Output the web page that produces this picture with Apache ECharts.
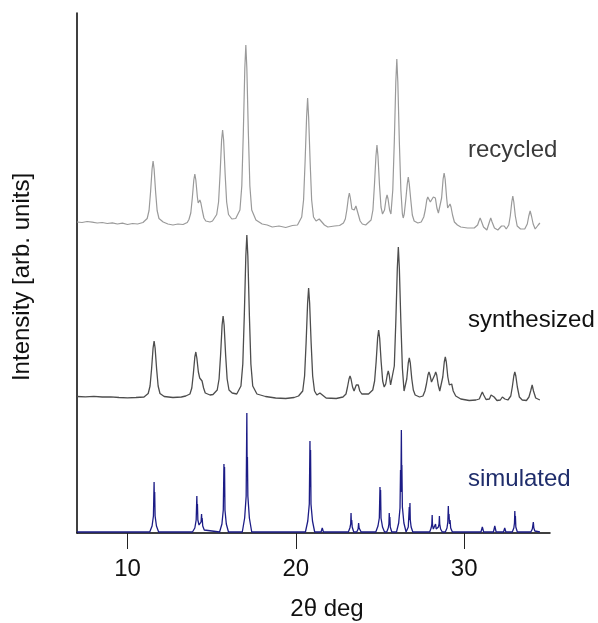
<!DOCTYPE html>
<html>
<head>
<meta charset="utf-8">
<script src="https://cdn.jsdelivr.net/npm/echarts@6/dist/echarts.min.js"></script>
<style>
html,body{margin:0;padding:0;background:#fff;}
#chart{width:598px;height:623px;}
</style>
</head>
<body>
<div id="chart"></div>
<script>
// x tick labels (2θ, degrees)
const xTicks = [10, 20, 30];

// series names
const seriesNames = ['recycled', 'synthesized', 'simulated'];

// vertical stacking offsets (arb. units) for each pattern
const offsetRecycled = 309;
const offsetSynthesized = 134;
const offsetSimulated = 1;

// recycled pattern: [2θ, intensity above its baseline]
const recycled = [
[7.0,2],[7.3,1.5],[7.6,2.5],[7.9,1.8],[8.2,1],[8.5,1.5],[8.8,0.5],[9.1,1.2],[9.4,0],[9.7,0.8],[10.0,-0.5],[10.3,0.5],[10.6,0],[10.92,1.5],
[11.17,5.5],[11.28,13.5],[11.37,32],[11.46,55],[11.52,63],[11.58,55],[11.67,32],[11.76,13.5],[11.87,5.5],[12.12,2],[12.4,0],[12.7,-1],[13.0,0],[13.3,-0.5],[13.55,1.5],
[13.65,4.5],[13.76,11],[13.85,26],[13.94,44],[14.0,50],[14.06,44],[14.15,27],[14.2,21],[14.24,22],[14.3,24],[14.36,21],[14.45,13],[14.54,6],[14.65,3],[14.9,2],[15.05,3],
[15.3,9.5],[15.41,22],[15.5,50],[15.59,84],[15.65,94],[15.71,84],[15.8,50],[15.89,22],[16.0,9.5],[16.2,5],
[16.43,5.5],[16.68,14],[16.79,38],[16.88,91],[16.97,156],[17.03,179],[17.09,156],[17.18,91],[17.27,38],[17.38,14],[17.63,4],[18.0,0],[18.3,-1],[18.6,-3],[19.0,-2],[19.4,-3.5],[19.8,-1.5],[20.1,-1],
[20.35,7],[20.46,24],[20.55,62],[20.64,107],[20.7,126],[20.76,107],[20.85,62],[20.94,24],[21.05,7],[21.2,3],[21.3,4],[21.39,5],[21.5,3],[21.7,-1],[21.9,-3],[22.3,-2],[22.6,-1.5],
[22.83,1],[22.94,5],[23.03,14],[23.12,26],[23.18,31],[23.24,26],[23.33,15],[23.4,13],[23.47,14],[23.51,16],[23.57,18],[23.63,16],[23.72,9],[23.82,3],[23.95,0],[24.15,-1],
[24.47,4],[24.58,14],[24.67,39],[24.76,68],[24.82,79],[24.88,68],[24.97,39],[25.06,17],[25.15,10],[25.2,9],[25.27,14],[25.36,25],[25.42,29],[25.48,25],[25.57,14],[25.65,10],
[25.76,34],[25.85,82],[25.94,142],[26.0,165],[26.06,142],[26.15,82],[26.24,34],[26.33,10],[26.38,6],[26.44,10],[26.53,24],[26.62,40],[26.68,47],[26.74,40],[26.83,24],[26.92,9],[27.03,3],[27.25,1],[27.45,2],
[27.6,7],[27.69,14],[27.78,24],[27.84,27],[27.9,25],[27.99,22],[28.03,21],[28.08,22],[28.17,27],[28.23,29],[28.29,26],[28.38,16],[28.47,11],[28.54,12],[28.66,26],[28.75,45],[28.81,51],[28.87,45],[28.96,26],[29.02,16],[29.07,15],[29.1,17],[29.16,20],[29.22,17],[29.31,9],[29.42,2],[29.6,-1],[29.8,-3],[30.2,-4],[30.6,-4],
[30.8,-1],[30.88,3],[30.95,6],[31.02,3],[31.15,-3],[31.35,-6],[31.5,2],[31.58,6],[31.66,2],[31.8,-4],[32.0,-6],[32.22,-2],[32.3,0],[32.38,-2],[32.5,-5],[32.65,-1],[32.74,8],[32.83,22],[32.89,28],[32.95,22],[33.04,8],[33.15,-2],[33.35,-5],[33.6,-5],[33.75,0],[33.84,8],[33.92,13],[34.0,8],[34.1,0],[34.22,-5],[34.4,-1],[34.5,1]
];

// synthesized pattern: [2θ, intensity above its baseline]
const synthesized = [
[7.0,2.5],[7.5,2.2],[8.0,2.6],[8.5,2],[9.0,2.2],[9.5,1.5],[10.0,1.2],[10.5,1.5],[10.98,2],
[11.23,5.5],[11.34,13],[11.43,30],[11.52,51],[11.58,58],[11.64,51],[11.73,30],[11.82,13],[11.93,5.5],[12.18,2.5],[12.7,1.5],[13.2,2],
[13.46,3],[13.71,5],[13.82,11],[13.91,25],[14.0,42],[14.06,47],[14.12,41],[14.21,27],[14.29,21],[14.36,22],[14.43,18],[14.52,11],[14.62,6],[14.9,4],
[15.08,4.5],[15.33,9],[15.44,20],[15.53,44],[15.62,74],[15.68,83],[15.74,74],[15.83,44],[15.92,20],[16.03,9],[16.22,6],
[16.49,5],[16.74,13],[16.85,35],[16.94,84],[17.03,143],[17.09,164],[17.15,143],[17.24,84],[17.33,35],[17.44,13],[17.69,5],[18.2,2.5],[18.8,1],[19.4,0.5],[19.9,1.5],
[20.16,3],[20.41,8],[20.52,23],[20.61,56],[20.7,96],[20.76,111],[20.82,96],[20.91,56],[21.0,23],[21.11,8],[21.25,4],[21.35,5],[21.43,6],[21.52,4],[21.8,1],[22.4,0.5],
[22.8,2],[22.98,5],[23.07,12],[23.16,20],[23.22,23],[23.28,20],[23.37,12],[23.46,8],[23.52,10],[23.59,14],[23.65,16],[23.71,14],[23.8,8],[23.92,5],[24.1,5],
[24.32,5],[24.57,9],[24.68,18],[24.77,37],[24.86,61],[24.92,69],[24.98,61],[25.07,37],[25.16,18],[25.25,12],[25.34,15],[25.43,24],[25.49,28],[25.55,24],[25.63,14],[25.7,12],
[25.74,14],[25.85,33],[25.94,77],[26.03,131],[26.09,152],[26.15,131],[26.24,77],[26.33,31],[26.43,8],[26.5,10],[26.59,20],[26.68,36],[26.74,41],[26.8,36],[26.89,20],[26.98,9],[27.09,4],[27.35,2],[27.55,3],
[27.67,8],[27.76,15],[27.85,24],[27.91,27],[27.97,24],[28.06,17],[28.11,16],[28.16,17],[28.25,24],[28.31,27],[28.37,24],[28.46,14],[28.55,8],[28.64,9],[28.73,22],[28.82,37],[28.88,42],[28.94,37],[29.03,22],[29.12,14],[29.2,14],[29.26,15],[29.35,8],[29.5,3],[29.8,0],[30.3,-1.5],
[30.7,-1],[30.9,0],[31.0,4],[31.08,7],[31.16,4],[31.3,-0.5],[31.5,0],[31.6,4],[31.68,6],[31.78,2],[31.95,-1.5],[32.15,-1],[32.27,2],[32.33,3],[32.42,0],[32.6,-1],
[32.77,3],[32.86,12],[32.95,23],[33.01,27],[33.07,23],[33.16,12],[33.28,2],[33.45,-1],[33.7,-1.5],[33.85,2],[33.95,8],[34.04,14],[34.12,8],[34.25,1],[34.5,-1]
];

// simulated pattern: [2θ, intensity]
const simulated = [
[7.0,0],[11.32,0],[11.46,6],[11.54,16],[11.58,50],[11.6,25],[11.615,40],[11.64,16],[11.72,6],[11.85,0],
[13.86,0],[14.0,4],[14.08,12],[14.12,36],[14.14,18],[14.155,28],[14.18,12],[14.25,7],[14.32,8],[14.37,10],[14.4,18],[14.42,10],[14.435,14],[14.47,6],[14.56,2],[14.66,0],
[15.47,0],[15.61,8],[15.69,22],[15.73,68],[15.75,35],[15.765,65],[15.79,22],[15.87,8],[16.0,0],
[16.82,0],[16.96,14],[17.05,36],[17.09,119],[17.11,55],[17.125,75],[17.15,36],[17.24,14],[17.38,0],
[20.57,0],[20.71,11],[20.8,28],[20.84,91],[20.86,45],[20.875,82],[20.9,28],[20.99,11],[21.12,0],
[21.5,0],[21.57,4],[21.64,0],
[23.12,0],[23.21,4],[23.26,8],[23.28,19],[23.3,9],[23.32,12],[23.35,5],[23.44,0],
[23.62,0],[23.7,3],[23.73,9],[23.76,4],[23.8,5],[23.88,0],
[24.75,0],[24.88,6],[24.96,14],[25.0,45],[25.02,22],[25.035,42],[25.06,14],[25.15,5],[25.27,0],
[25.4,0],[25.49,4],[25.53,8],[25.55,19],[25.57,9],[25.585,15],[25.61,5],[25.7,0],
[25.98,0],[26.11,9],[26.19,24],[26.22,62],[26.24,40],[26.27,102],[26.29,50],[26.3,67],[26.33,25],[26.42,9],[26.55,0],
[26.6,0],[26.68,5],[26.74,25],[26.76,12],[26.78,29],[26.8,12],[26.85,5],[26.95,0],
[27.95,0],[28.04,4],[28.08,8],[28.1,17],[28.12,7],[28.17,3],[28.25,4],[28.3,8],[28.34,3],[28.4,2],[28.47,5],[28.51,8],[28.53,16],[28.55,8],[28.6,3],[28.7,0],
[28.88,0],[28.98,4],[29.03,10],[29.06,26],[29.08,14],[29.1,18],[29.13,8],[29.16,12],[29.2,4],[29.3,0],
[31.0,0],[31.08,5],[31.16,0],
[31.74,0],[31.82,6],[31.9,0],
[32.34,0],[32.41,4],[32.48,0],
[32.86,0],[32.95,4],[32.99,9],[33.01,21],[33.03,10],[33.045,16],[33.07,5],[33.16,0],
[33.96,0],[34.05,3],[34.09,5],[34.11,10],[34.14,4],[34.2,1],[34.3,0],[34.5,0]
];

function shift(arr, off) { return arr.map(p => [p[0], p[1] + off]); }

const chart = echarts.init(document.getElementById('chart'), null, {renderer: 'canvas'});
const FONT = 'Liberation Sans, Arial, sans-serif';

chart.setOption({
  animation: false,
  backgroundColor: '#fff',
  grid: {left: 77, right: 48, top: 13, bottom: 90},
  xAxis: {
    type: 'value', min: 7, max: 35.1,
    axisLine: {show: true, onZero: false, lineStyle: {color: '#000', width: 1.5}},
    axisTick: {show: true, customValues: xTicks, length: 16, lineStyle: {color: '#222', width: 1}},
    axisLabel: {show: true, customValues: xTicks, margin: 24, color: '#111', fontSize: 24, fontFamily: FONT},
    splitLine: {show: false}
  },
  yAxis: {
    type: 'value', min: 0, max: 520,
    axisLine: {show: true, lineStyle: {color: '#000', width: 1.5}},
    axisTick: {show: false},
    axisLabel: {show: false},
    splitLine: {show: false}
  },
  series: [
    {name: seriesNames[0], type: 'line', data: shift(recycled, offsetRecycled), showSymbol: false,
     lineStyle: {color: '#9a9a9a', width: 1.2}, z: 3},
    {name: seriesNames[1], type: 'line', data: shift(synthesized, offsetSynthesized), showSymbol: false,
     lineStyle: {color: '#4d4d4d', width: 1.3}, z: 3},
    {name: seriesNames[2], type: 'line', data: shift(simulated, offsetSimulated), showSymbol: false,
     lineStyle: {color: '#1c1c86', width: 1.3}, z: 3}
  ],
  graphic: [
    {type: 'text', x: 468, y: 150, style: {text: seriesNames[0], fill: '#3a3a3a', font: '24px ' + FONT, textAlign: 'left', textVerticalAlign: 'middle'}},
    {type: 'text', x: 468, y: 320, style: {text: seriesNames[1], fill: '#111', font: '24px ' + FONT, textAlign: 'left', textVerticalAlign: 'middle'}},
    {type: 'text', x: 468, y: 479, style: {text: seriesNames[2], fill: '#1f2d6b', font: '24px ' + FONT, textAlign: 'left', textVerticalAlign: 'middle'}},
    {type: 'text', x: 327, y: 609, style: {text: '2θ deg', fill: '#111', font: '24px ' + FONT, textAlign: 'center', textVerticalAlign: 'middle'}},
    {type: 'text', x: 22, y: 277, rotation: Math.PI / 2, style: {text: 'Intensity [arb. units]', fill: '#111', font: '24px ' + FONT, textAlign: 'center', textVerticalAlign: 'middle'}}
  ]
});
</script>
</body>
</html>
